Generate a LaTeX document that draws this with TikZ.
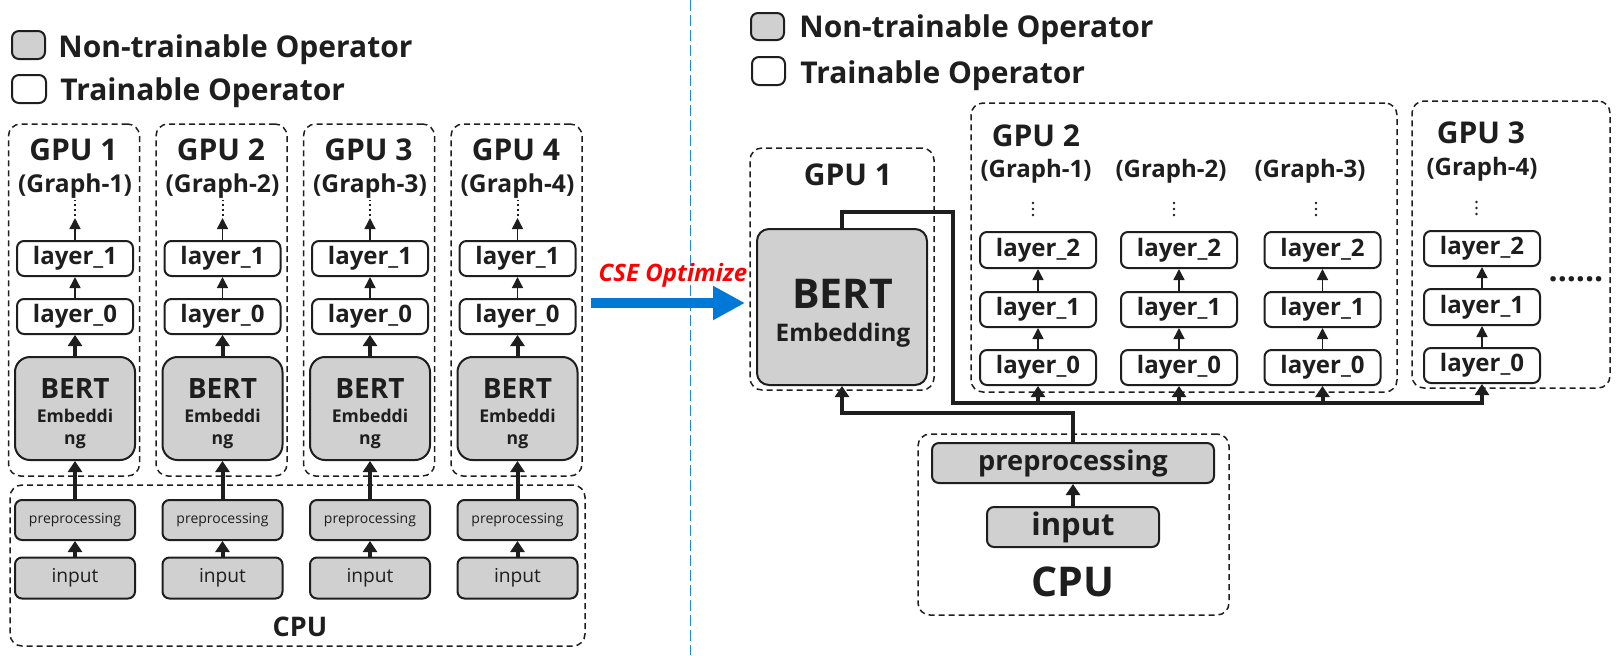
\documentclass[tikz,border=0pt]{standalone}
\usepackage{fontspec}
\setmainfont{Open Sans}
\usetikzlibrary{arrows.meta,calc}
\definecolor{boxgray}{HTML}{D0D0D0}
\definecolor{ink}{HTML}{1E1E1E}
\definecolor{arrowblue}{HTML}{0078D7}
\definecolor{sepblue}{HTML}{1E88E5}
\newcommand\myfs[1]{\fontsize{#1pt}{#1pt}\selectfont}
\begin{document}
\begin{tikzpicture}[x=0.5pt,y=-0.5pt,
  every node/.style={text=ink},
  gbox/.style={draw=ink, line width=1pt, fill=boxgray, rounded corners=3.5pt, inner sep=0pt},
  wbox/.style={draw=ink, line width=1pt, fill=white, rounded corners=3.5pt, inner sep=0pt},
  dbox/.style={draw=ink, line width=0.75pt, dash pattern=on 3pt off 2pt, rounded corners=6pt, inner sep=0pt},
  thk/.style={draw=ink, line width=2pt, -{Triangle[width=7pt,length=5.5pt]}},
  thn/.style={draw=ink, line width=0.75pt, -{Triangle[width=5.5pt,length=5.5pt]}},
  dotsv/.style={draw=ink, line width=1.4pt, line cap=round, dash pattern=on 0pt off 3pt},
  dotsl/.style={draw=ink, line width=1pt, dash pattern=on 1pt off 1.6pt},
  lbl/.style={anchor=base, inner sep=0pt},
  lay/.style={wbox, minimum width=58pt, minimum height=17.5pt, font=\myfs{12}\bfseries}
]
\useasboundingbox (0,0) rectangle (1619,655);

% ---------------- left legend ----------------
\node[gbox, minimum width=16.5pt, minimum height=14pt] (lk1) at (28.5,45) {};
\node[anchor=base west, inner sep=0pt, font=\myfs{15}\bfseries] (lk1t) at (58,57) {Non-trainable Operator};
\node[wbox, minimum width=17pt, minimum height=14pt] (lk2) at (29,89) {};
\node[anchor=base west, inner sep=0pt, font=\myfs{15}\bfseries] (lk2t) at (60,100.5) {Trainable Operator};

% ---------------- left CPU box ----------------
\node[dbox, minimum width=287.5pt, minimum height=80.5pt] (lcpu) at (297.5,565.5) {};
\node[lbl, font=\myfs{13.5}\bfseries] (lcput) at (300,636.5) {CPU};

% ---------------- left GPU columns ----------------
\foreach \i in {1,...,4}{
  \pgfmathsetmacro\cx{75+147.5*(\i-1)}
  \node[dbox, minimum width=65.5pt, minimum height=176pt] (lg\i) at (\cx-1,300) {};
  \node[lbl, font=\myfs{15}\bfseries] (lt\i) at (\cx-1.5,160.5) {GPU \i};
  \node[lbl, font=\myfs{12.3}\bfseries] (lgr\i) at (\cx,192.5) {(Graph-\i)};
  \node[lay] (la1\i) at (\cx,258.5) {layer\_1};
  \node[lay] (la0\i) at (\cx,316.5) {layer\_0};
  \node[gbox, rounded corners=7.5pt, minimum width=60pt, minimum height=51.5pt] (lb\i) at (\cx,408.5) {};
  \node[lbl, font=\myfs{14}\bfseries] (lbt\i) at (\cx,398) {BERT};
  \node[lbl, font=\myfs{8.8}\bfseries] (lbe\i) at (\cx,422) {Embeddi};
  \node[lbl, font=\myfs{8.8}\bfseries] (lbn\i) at (\cx,444) {ng};
  \node[gbox, minimum width=60pt, minimum height=20pt, font=\myfs{7}] (lp\i) at (\cx,520) {preprocessing};
  \node[gbox, minimum width=60pt, minimum height=20.5pt, font=\myfs{9.6}] (li\i) at (\cx,578) {input};
  \coordinate (ld\i) at (\cx,218);
  \coordinate (ldt\i) at (\cx,200);
  \draw[thn] (la1\i.north) -- (ld\i);
  \draw[dotsl] ($(ld\i)+(0,-2)$) -- (ldt\i);
  \draw[thn] (la0\i) -- (la1\i);
  \draw[thk] (lb\i) -- (la0\i);
  \draw[thk] (lp\i) -- (lb\i);
  \draw[thk] (li\i) -- (lp\i);
}

% ---------------- separator + CSE arrow ----------------
\coordinate (sepT) at (690.5,0);
\coordinate (sepB) at (690.5,655);
\draw[sepblue, line width=0.7pt, dash pattern=on 5.5pt off 2pt] (sepT) -- (sepB);
\node[lbl, font=\myfs{12}\bfseries\itshape, text=red] (cse) at (673,281.5) {CSE Optimize};
\coordinate (csa) at (591,303);
\coordinate (csb) at (745,303);
\draw[arrowblue, line width=5pt, -{Triangle[width=16pt,length=16pt]}] (csa) -- (csb);

% ---------------- right legend ----------------
\node[gbox, minimum width=16.5pt, minimum height=13.5pt] (rk1) at (767.5,26.5) {};
\node[anchor=base west, inner sep=0pt, font=\myfs{15}\bfseries] (rk1t) at (799,37.5) {Non-trainable Operator};
\node[wbox, minimum width=16.5pt, minimum height=14pt] (rk2) at (768.5,71) {};
\node[anchor=base west, inner sep=0pt, font=\myfs{15}\bfseries] (rk2t) at (800,83.5) {Trainable Operator};

% ---------------- right GPU 1 ----------------
\node[dbox, minimum width=92pt, minimum height=121pt] (rg1) at (842,269) {};
\node[lbl, font=\myfs{15}\bfseries] (rg1t) at (848,185) {GPU 1};
\node[gbox, rounded corners=6pt, minimum width=85pt, minimum height=78pt] (rbert) at (842,307) {};
\node[lbl, font=\myfs{20.5}\bfseries] (rbertt) at (843,308.3) {BERT};
\node[lbl, font=\myfs{12.1}\bfseries] (rberte) at (843,341.7) {Embedding};

% ---------------- right GPU 2 ----------------
\node[dbox, minimum width=213pt, minimum height=144.5pt] (rg2) at (1184,247.5) {};
\node[lbl, font=\myfs{15}\bfseries] (rg2t) at (1036,146.7) {GPU 2};
\foreach \j/\lx/\bx/\dx in {1/1036/1038/1033, 2/1171/1179/1174, 3/1310/1322.5/1316}{
  \node[lbl, font=\myfs{12}\bfseries] (rgr\j) at (\lx,177.5) {(Graph-\j)};
  \node[lay, minimum height=18pt] (rl2\j) at (\bx,250) {layer\_2};
  \node[lay] (rl1\j) at (\bx,309.5) {layer\_1};
  \node[lay] (rl0\j) at (\bx,367.5) {layer\_0};
  \draw[thn] (rl0\j) -- (rl1\j);
  \draw[thn] (rl1\j) -- (rl2\j);
  \coordinate (rda\j) at (\dx,203);
  \coordinate (rdb\j) at (\dx,215);
  \draw[dotsv] (rda\j) -- (rdb\j);
}

% ---------------- right GPU 3 ----------------
\node[dbox, minimum width=99pt, minimum height=143.5pt] (rg3) at (1511,244.5) {};
\node[lbl, font=\myfs{15}\bfseries] (rg3t) at (1481,143.3) {GPU 3};
\node[lbl, font=\myfs{12}\bfseries] (rgr4) at (1482,175) {(Graph-4)};
\node[lay, minimum height=17.5pt] (rl24) at (1482,248.5) {layer\_2};
\node[lay, minimum height=18pt] (rl14) at (1482,307) {layer\_1};
\node[lay] (rl04) at (1482,365.5) {layer\_0};
\draw[thn] (rl04) -- (rl14);
\draw[thn] (rl14) -- (rl24);
\coordinate (rda4) at (1476.5,202);
\coordinate (rdb4) at (1476.5,214);
\draw[dotsv] (rda4) -- (rdb4);
\node[lbl, font=\myfs{16}\bfseries] (rmore) at (1576,281) {......};

% ---------------- right CPU ----------------
\node[dbox, minimum width=155.5pt, minimum height=90.5pt] (rcpu) at (1073.5,524.5) {};
\node[gbox, minimum width=141pt, minimum height=20pt, font=\myfs{13.6}\bfseries] (rpre) at (1073,463) {preprocessing};
\node[gbox, minimum width=86pt, minimum height=20pt, font=\myfs{15.5}\bfseries] (rin) at (1073,527) {input};
\draw[thk] (rin) -- (rpre);
\node[lbl, font=\myfs{20.5}\bfseries] (rcput) at (1073,596.7) {CPU};

% ---------------- right connectors ----------------
\coordinate (busA) at (953,212);
\coordinate (busB) at (953,403);
\draw[thk, line join=miter] (rbert.north) |- (busA) -- (busB) -| (rl04.south);
\foreach \j in {1,2,3}{
  \draw[thk] (rl0\j.south |- busB) -- (rl0\j.south);
}
\coordinate (cpuT) at (1073,413);
\draw[thk, line join=miter] (rpre.north) -- (cpuT) -| (rbert.south);

\end{tikzpicture}
\end{document}
